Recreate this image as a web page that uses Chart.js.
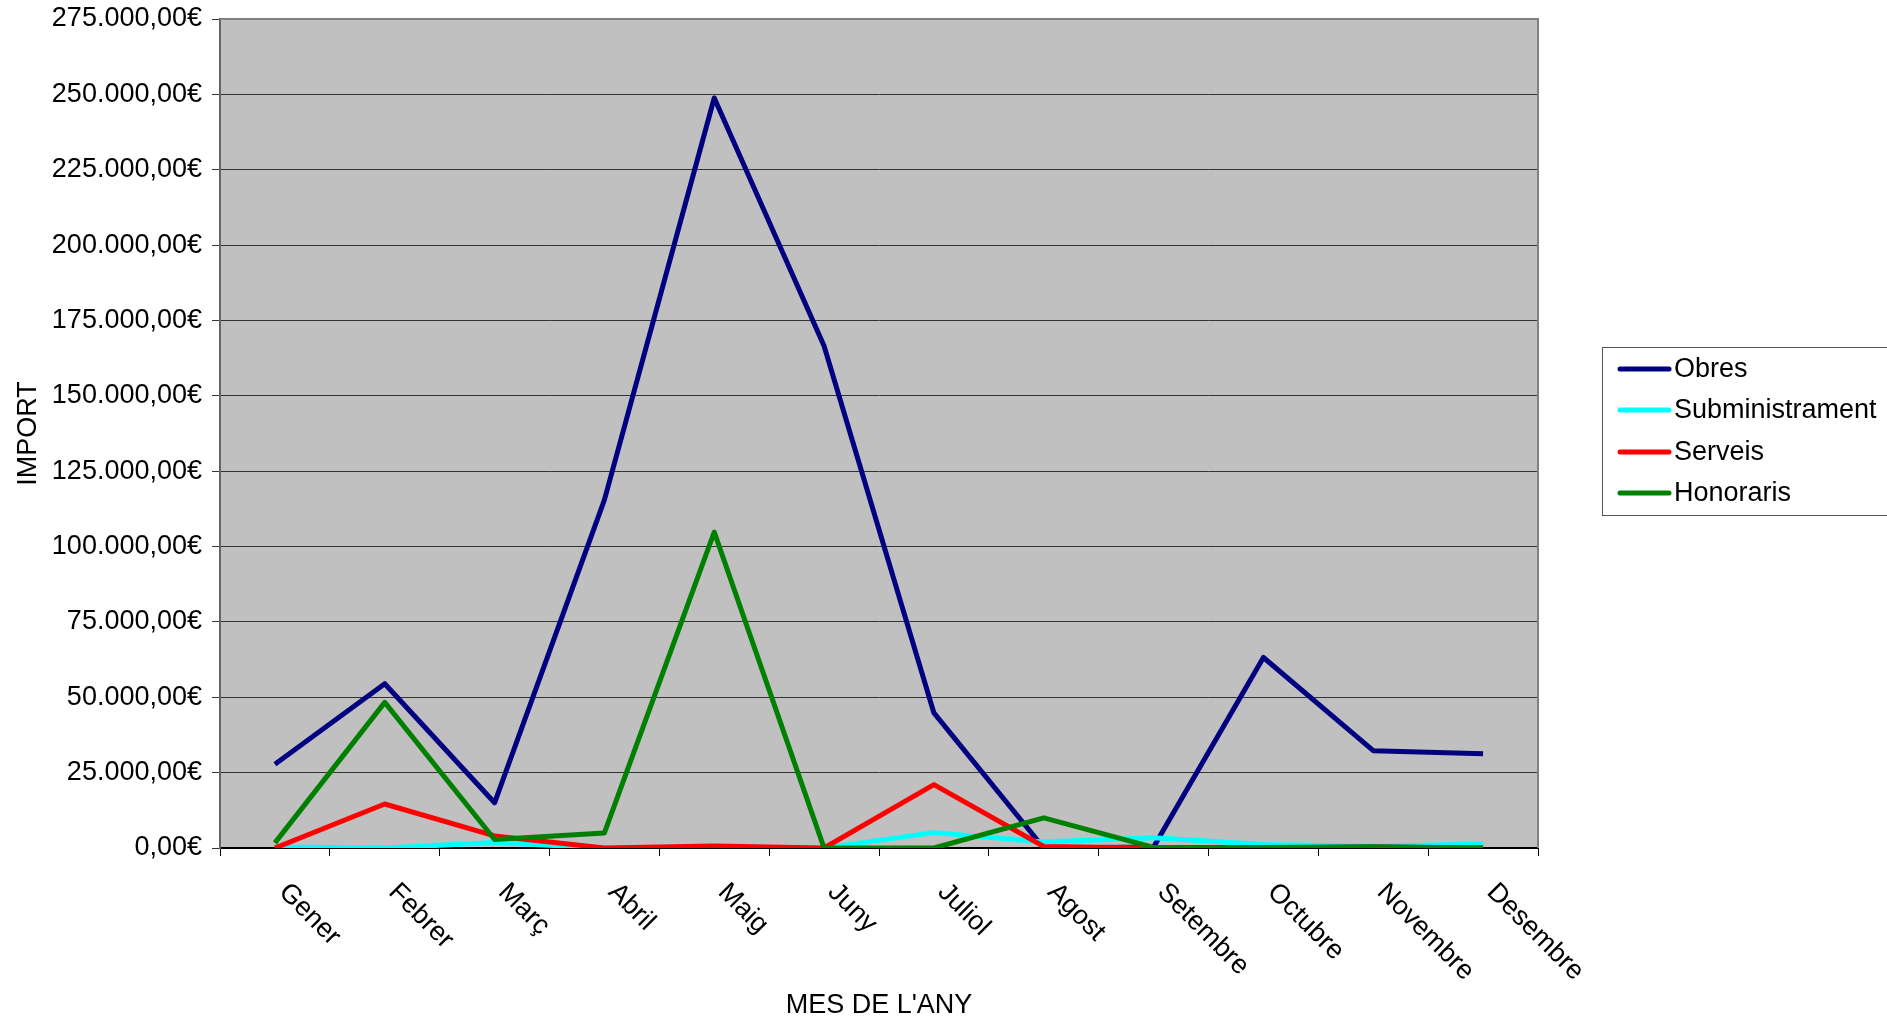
<!DOCTYPE html>
<html>
<head>
<meta charset="utf-8">
<script src="https://cdn.jsdelivr.net/npm/chart.js@4.4.0/dist/chart.umd.min.js"></script>
<style>
  body { margin: 0; background: #fff; }
  #wrap { width: 1887px; height: 1022px; }
</style>
</head>
<body>
<div id="wrap"><canvas id="myChart" width="1887" height="1022"></canvas></div>
<script>
const months = ['Gener', 'Febrer', 'Març', 'Abril', 'Maig', 'Juny', 'Juliol', 'Agost', 'Setembre', 'Octubre', 'Novembre', 'Desembre'];
const obres = [27800, 54500, 15000, 115500, 248800, 166500, 44800, 0, 300, 63200, 32300, 31300];
const subministrament = [300, 0, 1800, 0, 0, 0, 5100, 2000, 3400, 1200, 600, 1300];
const serveis = [0, 14600, 4000, 0, 700, 0, 21000, 500, 0, 0, 300, 0];
const honoraris = [1700, 48300, 2800, 5000, 104800, 0, 0, 10000, 200, 200, 400, 0];
const yMax = 275000;
const yStep = 25000;

const FONT = 'Liberation Sans, Arial, sans-serif';

// format like 275.000,00€
function euro(v) {
    const s = String(Math.round(v));
    const parts = [];
    for (let i = s.length; i > 0; i -= 3) {
        parts.unshift(s.substring(Math.max(0, i - 3), i));
    }
    return parts.join('.') + ',00€';
}

// grey plot background + top/right frame
const plotBack = {
    id: 'plotBack',
    beforeDraw(chart) {
        const a = chart.chartArea;
        const ctx = chart.ctx;
        ctx.save();
        ctx.fillStyle = '#c0c0c0';
        ctx.fillRect(a.left, a.top, a.right - a.left, a.bottom - a.top);
        ctx.restore();
    },
    afterDatasetsDraw(chart) {
        const a = chart.chartArea;
        const ctx = chart.ctx;
        ctx.save();
        ctx.strokeStyle = '#808080';
        ctx.lineWidth = 2;
        ctx.beginPath();
        ctx.moveTo(a.left, a.top);
        ctx.lineTo(a.right, a.top);
        ctx.lineTo(a.right, a.bottom);
        ctx.stroke();
        ctx.restore();
    }
};

// rotated month labels + boxed legend
const extras = {
    id: 'extras',
    afterDraw(chart) {
        const ctx = chart.ctx;
        const xs = chart.scales.x;
        ctx.save();
        ctx.fillStyle = '#000';
        ctx.font = '27px ' + FONT;
        ctx.textAlign = 'left';
        ctx.textBaseline = 'middle';
        months.forEach((m, i) => {
            const x = xs.getPixelForValue(i);
            ctx.save();
            ctx.translate(x + 8, xs.top + 40);
            ctx.rotate(Math.PI / 4);
            ctx.fillText(m, 0, 0);
            ctx.restore();
        });

        // legend
        ctx.strokeStyle = '#555';
        ctx.lineWidth = 1;
        ctx.strokeRect(1602.5, 347.5, 300, 168);
        const rows = [369, 410, 452, 493];
        chart.data.datasets.forEach((ds, i) => {
            ctx.strokeStyle = ds.borderColor;
            ctx.lineWidth = 5;
            ctx.lineCap = 'round';
            ctx.beginPath();
            ctx.moveTo(1620, rows[i]);
            ctx.lineTo(1669, rows[i]);
            ctx.stroke();
            ctx.fillStyle = '#000';
            ctx.fillText(ds.label, 1674, rows[i] + 1);
        });
        ctx.restore();
    }
};

const ctx = document.getElementById('myChart').getContext('2d');
const myChart = new Chart(ctx, {
    type: 'line',
    data: {
        labels: months,
        datasets: [
            { label: 'Obres', data: obres, borderColor: '#000080', order: 4 },
            { label: 'Subministrament', data: subministrament, borderColor: '#00ffff', order: 3 },
            { label: 'Serveis', data: serveis, borderColor: '#ff0000', order: 2 },
            { label: 'Honoraris', data: honoraris, borderColor: '#008000', order: 1 }
        ]
    },
    options: {
        responsive: false,
        animation: false,
        devicePixelRatio: 1,
        layout: { padding: { top: 19, right: 349, bottom: 0, left: 0 } },
        elements: {
            line: { borderWidth: 5, tension: 0, fill: false, borderJoinStyle: 'round' },
            point: { radius: 0, hoverRadius: 0 }
        },
        plugins: {
            legend: { display: false },
            tooltip: { enabled: false }
        },
        scales: {
            x: {
                offset: true,
                grid: { drawOnChartArea: false, drawTicks: true, tickLength: 8, offset: true, color: '#000', lineWidth: 1 },
                border: { display: true, color: '#000', width: 2 },
                ticks: { display: false },
                title: {
                    display: true,
                    text: "MES DE L'ANY",
                    color: '#000',
                    font: { family: FONT, size: 27 },
                    padding: { top: 0, bottom: 0 }
                },
                afterFit(scale) { scale.height = 174; }
            },
            y: {
                min: 0,
                max: yMax,
                grid: { color: '#333', lineWidth: 1, tickLength: 8 },
                border: { display: true, color: '#666', width: 2 },
                ticks: {
                    stepSize: yStep,
                    padding: 10,
                    color: '#000',
                    font: { family: FONT, size: 27 },
                    callback: v => euro(v)
                },
                title: {
                    display: true,
                    text: 'IMPORT',
                    color: '#000',
                    font: { family: FONT, size: 27 },
                    padding: { top: 12, bottom: 0 }
                },
                afterFit(scale) {
                    scale.width = 220;
                    scale.paddingTop = 0;
                    scale.paddingBottom = 0;
                }
            }
        }
    },
    plugins: [plotBack, extras]
});
</script>
</body>
</html>
